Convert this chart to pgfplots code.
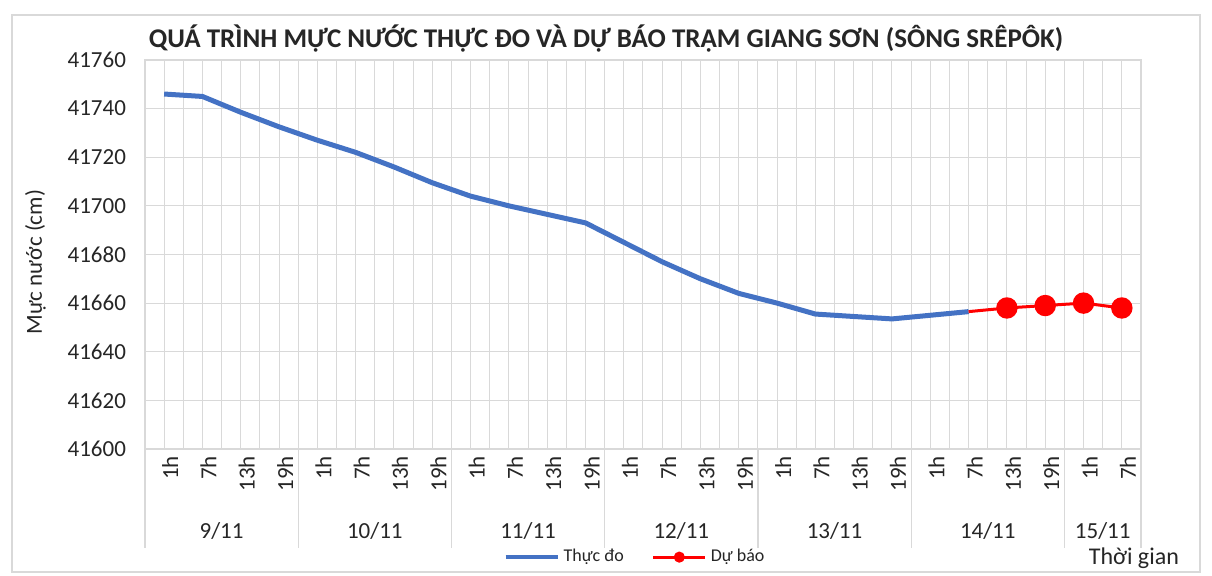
\documentclass[border=0pt]{standalone}
\usepackage{pgfplots}
\pgfplotsset{compat=1.18}
\usepackage{fontspec}
\setmainfont{Carlito}
\definecolor{thucdo}{HTML}{4472C4}
\definecolor{dubao}{HTML}{FF0000}
\definecolor{gridc}{HTML}{D9D9D9}
\definecolor{txt}{HTML}{262626}
\begin{document}
\begin{tikzpicture}
\useasboundingbox (0pt,0pt) rectangle (606pt,288pt);
\fill[white] (0pt,0pt) rectangle (606pt,288pt);
\draw[gridc, line width=0.6pt] (6pt,2pt) rectangle (600pt,280.5pt);
\begin{axis}[
  at={(72.5pt,63.5pt)}, anchor=south west,
  scale only axis, width=498pt, height=194.5pt,
  xmin=-0.5, xmax=25.5, ymin=41600, ymax=41760,
  ytick={41600,41620,...,41760},
  scaled y ticks=false,
  /pgf/number format/assume math mode=true,
  /pgf/number format/set thousands separator={},
  xtick={0,...,25},
  xticklabels={1h,7h,13h,19h,1h,7h,13h,19h,1h,7h,13h,19h,1h,7h,13h,19h,1h,7h,13h,19h,1h,7h,13h,19h,1h,7h},
  minor xtick={-0.5,0.5,...,25.5},
  xmajorgrids, xminorgrids, ymajorgrids,
  grid style={gridc, line width=0.5pt},
  minor grid style={gridc, line width=0.5pt},
  major grid style={gridc, line width=0.5pt},
  axis line style={gridc, line width=0.6pt},
  major tick length=0pt, minor tick length=0pt,
  xtick pos=bottom, ytick pos=left,
  extra x ticks={-0.5,3.5,7.5,11.5,15.5,19.5,23.5,25.5},
  extra x tick labels={},
  extra x tick style={major tick length=49.5pt, tick align=outside, tick style={gridc, line width=0.6pt}},
  xticklabel style={rotate=90, anchor=east, yshift=-3pt, font=\fontsize{11.5}{13}\selectfont, text=txt},
  yticklabel style={font=\fontsize{11.5}{13}\selectfont, text=txt, xshift=-6pt},
  ylabel={Mực nước (cm)},
  ylabel style={at={(-0.110,0.48)}, anchor=center, rotate=0, font=\fontsize{11.5}{13}\selectfont, text=txt},
  title={QUÁ TRÌNH MỰC NƯỚC THỰC ĐO VÀ DỰ BÁO TRẠM GIANG SƠN (SÔNG SRÊPÔK)},
  title style={at={(0.463,1.0)}, anchor=base, font=\bfseries\fontsize{13.5}{15}\selectfont, text=txt},
  legend style={at={(0.493,-0.278)}, anchor=center, legend columns=2, draw=none, fill=none,
    font=\fontsize{9}{10}\selectfont, text=txt, /tikz/every even column/.append style={column sep=12pt}},
  clip=false,
]
\addplot[thucdo, line width=2.5pt, line join=round,
  legend image code/.code={\draw[thucdo, line width=2pt] (0pt,0pt) -- (26pt,0pt);}]
  coordinates {
  (0,41746) (1,41745) (2,41738.5) (3,41732.5) (4,41727) (5,41722) (6,41716) (7,41709.5)
  (8,41704) (9,41700) (10,41696.5) (11,41693) (12,41685) (13,41677) (14,41670) (15,41664)
  (16,41660) (17,41655.5) (18,41654.5) (19,41653.5) (20,41655) (21,41656.5)
  };
\addlegendentry{Thực đo}
\addplot[dubao, line width=1.5pt, line join=round, mark=*, mark size=4.6pt, mark indices={2,3,4,5},
  mark options={fill=dubao, draw=dubao},
  legend image code/.code={\draw[dubao, line width=1.5pt] (0pt,0pt) -- (26pt,0pt); \fill[dubao] (13pt,0pt) circle (2pt);}]
  coordinates {
  (21,41656.5) (22,41658) (23,41659) (24,41660) (25,41658)
  };
\addlegendentry{Dự báo}
\foreach \xx/\lab in {1.5/9\slash 11, 5.5/10\slash 11, 9.5/11\slash 11, 13.5/12\slash 11, 17.5/13\slash 11, 21.5/14\slash 11, 24.5/15\slash 11} {
  \edef\tmp{\noexpand\node[font=\noexpand\fontsize{11.5}{13}\noexpand\selectfont, text=txt, yshift=-41pt] at (axis cs:\xx,41600) {\lab};}
  \tmp
}
\end{axis}
\node[anchor=east, font=\fontsize{12}{14}\selectfont, text=txt] at (593pt,9pt) {Thời gian};
\end{tikzpicture}
\end{document}
